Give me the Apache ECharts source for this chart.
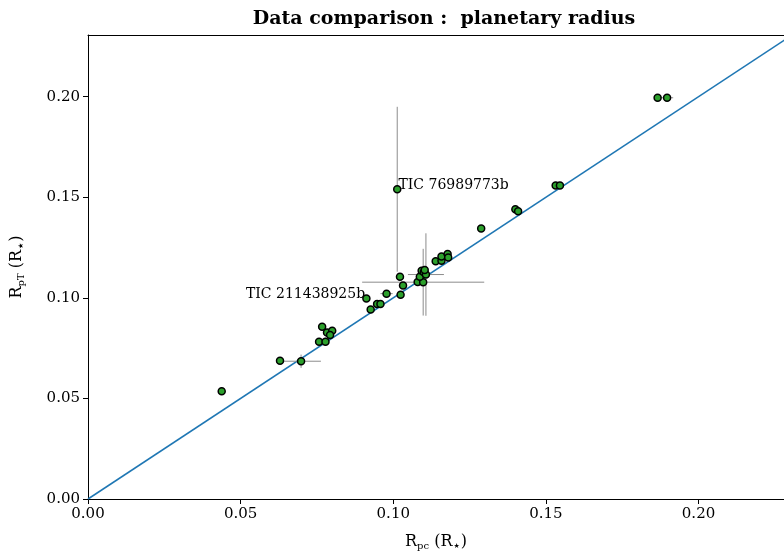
<!DOCTYPE html>
<html>
<head>
<meta charset="utf-8">
<script src="https://cdn.jsdelivr.net/npm/echarts@6/dist/echarts.min.js"></script>
<style>
  html, body { margin: 0; padding: 0; background: #fff; }
  #chart { width: 784px; height: 556px; }
</style>
</head>
<body>
<div id="chart"></div>
<script>
// radius from photometric fit (x) vs radius from TESS catalogue (y)
var rpc = [0.0438, 0.0629, 0.0698, 0.0757, 0.0778, 0.0767, 0.0783, 0.0800, 0.0793, 0.0912,
           0.0926, 0.0947, 0.0958, 0.0978, 0.1013, 0.1022, 0.1032, 0.1024, 0.1080, 0.1098,
           0.1087, 0.1093, 0.1100, 0.1107, 0.1103, 0.1139, 0.1158, 0.1158, 0.1178, 0.1180,
           0.1288, 0.1400, 0.1409, 0.1532, 0.1546, 0.1866, 0.1897];
var rpT = [0.0536, 0.0687, 0.0685, 0.0782, 0.0782, 0.0856, 0.0828, 0.0837, 0.0815, 0.0997,
           0.0942, 0.0969, 0.0969, 0.1021, 0.1540, 0.1105, 0.1061, 0.1015, 0.1079, 0.1078,
           0.1105, 0.1135, 0.1127, 0.1116, 0.1139, 0.1182, 0.1185, 0.1206, 0.1218, 0.1201,
           0.1345, 0.1441, 0.1431, 0.1559, 0.1559, 0.1995, 0.1995];
var rpcErr = [0, 0, 0.0065, 0, 0, 0, 0, 0, 0, 0,
              0, 0, 0, 0.002, 0.001, 0, 0, 0, 0, 0.020,
              0, 0, 0, 0.0059, 0, 0, 0, 0, 0, 0,
              0, 0, 0, 0, 0, 0, 0.002];
var rpTErr = [0, 0, 0.0033, 0, 0.002, 0, 0, 0, 0, 0,
              0, 0, 0, 0, 0.041, 0, 0, 0, 0, 0.0166,
              0, 0, 0, 0.0205, 0, 0, 0, 0, 0, 0,
              0, 0, 0, 0, 0, 0, 0];
var names = {9: 'TIC 211438925b', 14: 'TIC 76989773b'};
var xTicks = [0, 0.05, 0.10, 0.15, 0.20];
var yTicks = [0, 0.05, 0.10, 0.15, 0.20];
var oneToOne = [[0, 0], [0.25, 0.25]];

var FONT = 'DejaVu Serif';
var myChart = echarts.init(document.getElementById('chart'));

var pts = rpc.map(function (x, i) {
    var item = { value: [x, rpT[i]] };
    if (names[i]) {
        var left = i === 9;
        item.label = {
            show: true,
            formatter: names[i],
            position: left ? 'left' : 'right',
            distance: 0,
            offset: [left ? 3 : -3, -4],
            fontFamily: FONT,
            fontSize: 14,
            color: '#000'
        };
    }
    return item;
});
var errs = rpc.map(function (x, i) {
    return [x, rpT[i], rpcErr[i], rpTErr[i]];
});

var rich = {
    r: { fontFamily: FONT, fontSize: 16, color: '#000' },
    s: { fontFamily: FONT, fontSize: 10, color: '#000', padding: [8, 0, 0, 0] },
    st: { fontFamily: 'DejaVu Sans', fontSize: 7, color: '#000', padding: [8, 1, 0, 1] }
};

function tickFmt(v) { return v.toFixed(2); }

myChart.setOption({
    animation: false,
    backgroundColor: '#fff',
    title: {
        text: 'Data comparison :  planetary radius',
        left: 439,
        textAlign: 'center',
        top: 5,
        textStyle: { fontFamily: FONT, fontSize: 19, fontWeight: 'bold', color: '#000' }
    },
    grid: { left: 88, right: 0, top: 35, bottom: 55 },
    xAxis: [{
        type: 'value', min: 0, max: 0.228,
        name: '{r|R}{s|pc}{r| (R}{st|\u2605}{r|)}',
        nameLocation: 'middle', nameGap: 34,
        nameTextStyle: { rich: rich },
        axisLine: { lineStyle: { color: '#000', width: 1 } },
        axisTick: { length: 5, customValues: xTicks, lineStyle: { color: '#000' } },
        axisLabel: { customValues: xTicks, formatter: tickFmt, fontFamily: FONT, fontSize: 15, color: '#000', margin: 8 },
        splitLine: { show: false }
    }, {
        type: 'value', min: 0, max: 0.228, position: 'top',
        axisLine: { show: true, lineStyle: { color: '#000', width: 1 } },
        axisTick: { show: false }, axisLabel: { show: false }, splitLine: { show: false }
    }],
    yAxis: {
        type: 'value', min: 0, max: 0.2307,
        name: '{r|R}{s|pT}{r| (R}{st|\u2605}{r|)}',
        nameLocation: 'middle', nameGap: 62, nameRotate: 90,
        nameTextStyle: { rich: rich },
        axisLine: { show: true, lineStyle: { color: '#000', width: 1 } },
        axisTick: { length: 5, customValues: yTicks, lineStyle: { color: '#000' } },
        axisLabel: { customValues: yTicks, formatter: tickFmt, fontFamily: FONT, fontSize: 15, color: '#000', margin: 8 },
        splitLine: { show: false }
    },
    series: [{
        type: 'line',
        data: oneToOne,
        clip: true,
        symbol: 'none',
        lineStyle: { color: '#1f77b4', width: 1.5 },
        z: 1
    }, {
        type: 'custom',
        data: errs,
        clip: true,
        z: 2,
        renderItem: function (params, api) {
            var x = api.value(0), y = api.value(1), ex = api.value(2), ey = api.value(3);
            var kids = [];
            var st = { stroke: '#8c8c8c', lineWidth: 1 };
            if (ex > 0) {
                var a = api.coord([x - ex, y]), b = api.coord([x + ex, y]);
                kids.push({ type: 'line', shape: { x1: a[0], y1: a[1], x2: b[0], y2: b[1] }, style: st });
            }
            if (ey > 0) {
                var c = api.coord([x, y - ey]), d = api.coord([x, y + ey]);
                kids.push({ type: 'line', shape: { x1: c[0], y1: c[1], x2: d[0], y2: d[1] }, style: st });
            }
            return { type: 'group', children: kids };
        }
    }, {
        type: 'scatter',
        data: pts,
        symbol: 'circle',
        symbolSize: 7,
        itemStyle: { color: '#2ca02c', borderColor: '#000', borderWidth: 1.5, opacity: 1 },
        z: 3
    }]
});
</script>
</body>
</html>
